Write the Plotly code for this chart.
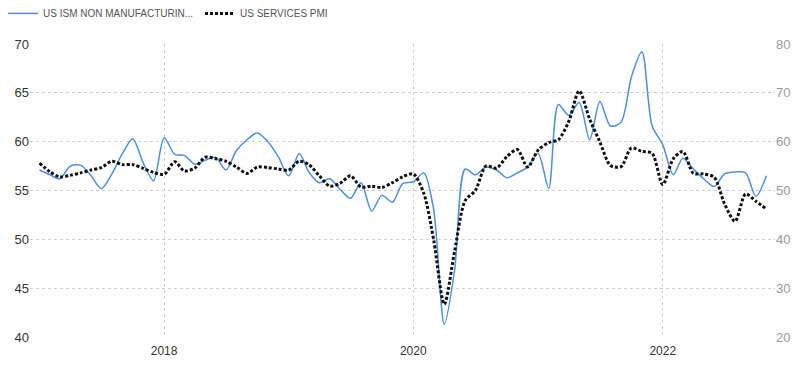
import plotly.graph_objects as go
import pandas as pd

dates = pd.date_range("2017-01-01", "2022-11-01", freq="MS")

ism_non_manufacturing = [
    57.1, 56.6, 56.2, 57.5, 57.6, 56.5, 55.2, 56.7, 58.8, 60.3, 57.8, 56.0,
    60.4, 58.7, 58.6, 57.7, 58.1, 58.4, 57.1, 59.1, 60.2, 60.9, 60.0, 58.5,
    56.5, 58.8, 56.9, 55.8, 56.2, 55.1, 54.2, 55.8, 52.9, 54.5, 53.8, 55.7,
    55.9, 56.8, 53.0, 41.3, 46.8, 57.2, 56.6, 57.4, 57.1, 56.3, 56.8, 57.4,
    58.8, 55.2, 63.8, 62.7, 64.0, 60.2, 64.1, 61.6, 62.0, 66.6, 69.2, 61.6,
    59.7, 56.6, 58.3, 57.2, 56.2, 55.4, 56.7, 56.9, 56.8, 54.4, 56.5,
]

us_services_pmi = [
    55.6, 53.8, 52.8, 53.1, 53.6, 54.2, 54.7, 56.0, 55.3, 55.3, 54.5, 53.7,
    53.3, 55.9, 54.0, 54.6, 56.8, 56.5, 56.0, 54.8, 53.5, 54.8, 54.7, 54.4,
    54.2, 56.0, 55.3, 53.0, 50.9, 51.5, 53.0, 50.7, 50.9, 50.6, 51.6, 52.8,
    53.4, 49.4, 39.8, 26.7, 37.5, 47.9, 50.0, 55.0, 54.6, 56.9, 58.4, 54.8,
    58.3, 59.8, 60.4, 64.2, 70.4, 64.6, 59.9, 55.1, 54.9, 58.7, 58.0, 57.6,
    51.2, 56.5, 58.0, 53.5, 53.4, 52.7, 47.3, 43.7, 49.3, 47.8, 46.2,
]

series_names = ["US ISM NON MANUFACTURIN...", "US SERVICES PMI"]
x_tick_vals = ["2018-01-01", "2020-01-01", "2022-01-01"]
x_tick_text = ["2018", "2020", "2022"]
left_ticks = [40, 45, 50, 55, 60, 65, 70]
right_ticks = [20, 30, 40, 50, 60, 70, 80]

FONT = "Liberation Sans, Arial, sans-serif"

fig = go.Figure()
fig.add_trace(go.Scatter(
    x=dates, y=ism_non_manufacturing, name=series_names[0], mode="lines",
    line=dict(color="#4a8fe0", width=1.5, shape="spline", smoothing=0.8),
    yaxis="y",
))
fig.add_trace(go.Scatter(
    x=dates, y=us_services_pmi, name=series_names[1], mode="lines",
    line=dict(color="#111111", width=3, dash="3px,2px", shape="spline", smoothing=0.8),
    yaxis="y2",
))

fig.update_layout(
    width=800, height=366,
    margin=dict(l=22, r=33, t=36, b=37, autoexpand=False),
    paper_bgcolor="white", plot_bgcolor="white",
    font=dict(family=FONT, size=12, color="#333"),
    showlegend=True,
    legend=dict(
        orientation="h", x=-0.0362, xanchor="left", y=1.154, yanchor="top",
        font=dict(family=FONT, size=10, color="#555"),
        bgcolor="rgba(0,0,0,0)", itemwidth=30,
        entrywidth=152, entrywidthmode="pixels",
        traceorder="normal",
    ),
    xaxis=dict(
        type="date", range=["2016-12-04", "2022-11-26"],
        tickvals=x_tick_vals, ticktext=x_tick_text,
        showgrid=True, gridcolor="#cfcfcf", griddash="dot", gridwidth=1,
        zeroline=False, showline=False, ticks="", ticklabelstandoff=5,
        tickfont=dict(family=FONT, size=12, color="#333"),
    ),
    yaxis=dict(
        range=[40, 70], tickvals=left_ticks,
        showgrid=True, gridcolor="#cfcfcf", griddash="dot", gridwidth=1,
        zeroline=False, showline=False, ticks="", ticklabelstandoff=0,
        tickfont=dict(family=FONT, size=13, color="#333"),
    ),
    yaxis2=dict(
        range=[20, 80], tickvals=right_ticks, overlaying="y", side="right",
        showgrid=False, zeroline=False, showline=False, ticks="", ticklabelstandoff=0,
        tickfont=dict(family=FONT, size=13, color="#999"),
    ),
)

fig.write_html("out.html")
